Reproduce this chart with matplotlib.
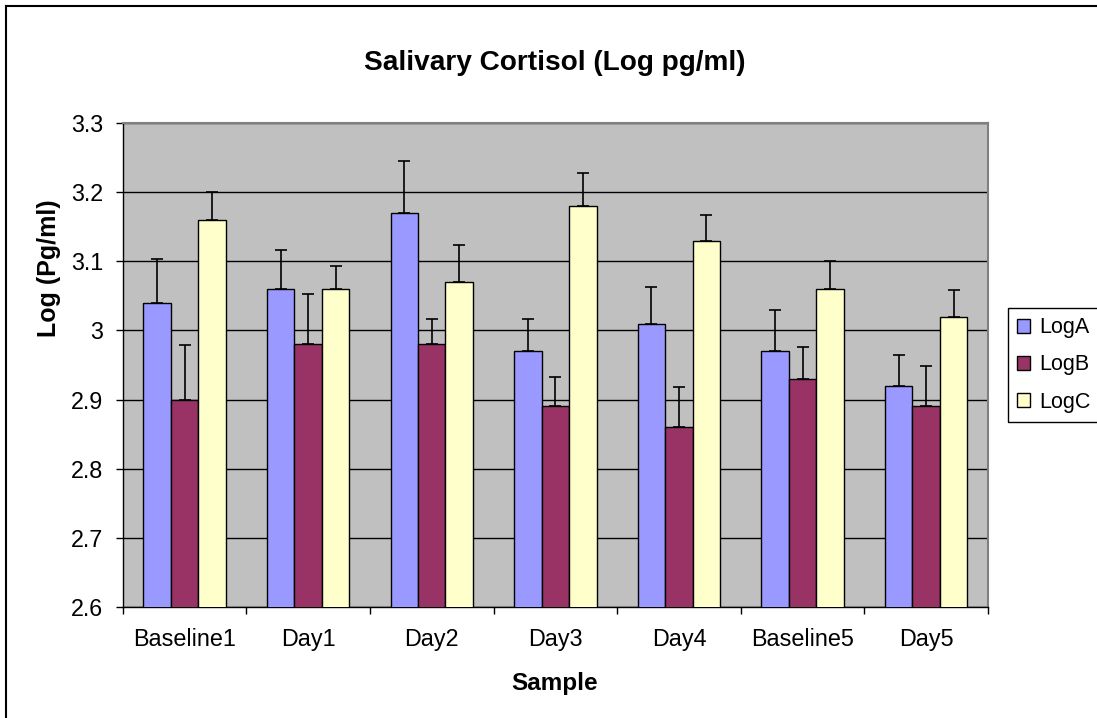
#!/usr/bin/env python3
"""Salivary cortisol (log pg/ml) grouped bars with upper error bars."""

import matplotlib

matplotlib.use("Agg")
import matplotlib.pyplot as plt
import matplotlib.ticker as ticker
import numpy as np
from matplotlib.lines import Line2D

plt.rcParams["font.family"] = ["Liberation Sans", "DejaVu Sans"]

SAMPLES = ["Baseline1", "Day1", "Day2", "Day3", "Day4", "Baseline5", "Day5"]
SERIES = ["LogA", "LogB", "LogC"]

LOG_A = [3.04, 3.06, 3.17, 2.97, 3.01, 2.97, 2.92]
LOG_B = [2.90, 2.98, 2.98, 2.89, 2.86, 2.93, 2.89]
LOG_C = [3.16, 3.06, 3.07, 3.18, 3.13, 3.06, 3.02]

ERR_A = [0.064, 0.057, 0.076, 0.047, 0.053, 0.060, 0.044]
ERR_B = [0.079, 0.073, 0.037, 0.043, 0.058, 0.046, 0.058]
ERR_C = [0.041, 0.034, 0.054, 0.048, 0.037, 0.041, 0.038]

COLORS = ["#9999FF", "#993366", "#FFFFCC"]

W, H = 1097, 718


def main() -> int:
    fig = plt.figure(figsize=(W / 100, H / 100), dpi=100)
    ax = fig.add_axes([122.7 / W, 1 - 606.7 / H, (988 - 122.7) / W, (606.7 - 123.3) / H])
    ax.set_facecolor("#C0C0C0")

    x = np.arange(len(SAMPLES))
    width = 1 / 4.5
    values = [LOG_A, LOG_B, LOG_C]
    errors = [ERR_A, ERR_B, ERR_C]
    for i, (vals, errs, label, color) in enumerate(zip(values, errors, SERIES, COLORS)):
        pos = x + (i - 1) * width
        ax.bar(pos, vals, width=width, bottom=0, color=color, edgecolor="black",
               linewidth=1.0, label=label, zorder=3)
        ax.errorbar(pos, vals, yerr=[np.zeros(len(errs)), errs], fmt="none",
                    ecolor="black", elinewidth=1.2, capsize=4.5, capthick=1.2, zorder=4)

    ax.set_ylim(2.6, 3.3)
    ax.set_xlim(-0.5, len(SAMPLES) - 0.5)
    ax.yaxis.set_major_locator(ticker.MultipleLocator(0.1))
    ax.yaxis.set_major_formatter(ticker.FuncFormatter(lambda v, _: f"{v:g}"))
    ax.grid(axis="y", color="black", linewidth=1.0, zorder=1)
    ax.set_axisbelow(True)

    ax.set_xticks(x)
    ax.set_xticklabels(SAMPLES)
    ax.set_xticks(np.arange(-0.5, len(SAMPLES)), minor=True)
    ax.tick_params(axis="x", which="major", length=0, pad=15, labelsize=16.8)
    ax.tick_params(axis="x", which="minor", length=5, width=1.0, direction="out")
    ax.tick_params(axis="y", length=5, width=1.0, pad=9, labelsize=16.8)

    for side in ("top", "right"):
        ax.spines[side].set_color("#808080")
        ax.spines[side].set_linewidth(1.5)
    for side in ("left", "bottom"):
        ax.spines[side].set_color("black")
        ax.spines[side].set_linewidth(1.0)

    fig.text(554.5 / W, 1 - 70 / H, "Salivary Cortisol (Log pg/ml)", ha="center",
             va="baseline", fontsize=20.2, fontweight="bold")
    fig.text(49 / W, 1 - 268.5 / H, "Log (Pg/ml)", ha="center", va="center",
             rotation=90, fontsize=18, fontweight="bold")
    fig.text(554.5 / W, 1 - 690 / H, "Sample", ha="center", va="baseline",
             fontsize=17.5, fontweight="bold")

    leg = ax.legend(loc="center left", bbox_to_anchor=(1007.7 / W, 1 - 365 / H),
                    bbox_transform=fig.transFigure, borderaxespad=0, fontsize=15.5,
                    handlelength=0.6, handleheight=0.6, handletextpad=0.4,
                    borderpad=0.45, labelspacing=0.75, fancybox=False,
                    framealpha=1, edgecolor="black")
    leg.get_frame().set_linewidth(1.0)

    # outer chart border (right/bottom edges fall outside the image)
    fig.add_artist(Line2D([6 / W, 6 / W], [0, 1 - 6 / H], color="black", linewidth=1.5,
                          transform=fig.transFigure))
    fig.add_artist(Line2D([6 / W, 1], [1 - 6 / H, 1 - 6 / H], color="black", linewidth=1.5,
                          transform=fig.transFigure))

    fig.savefig("out.png", dpi=100, facecolor="white")
    plt.close(fig)
    return 0


if __name__ == "__main__":
    raise SystemExit(main())
